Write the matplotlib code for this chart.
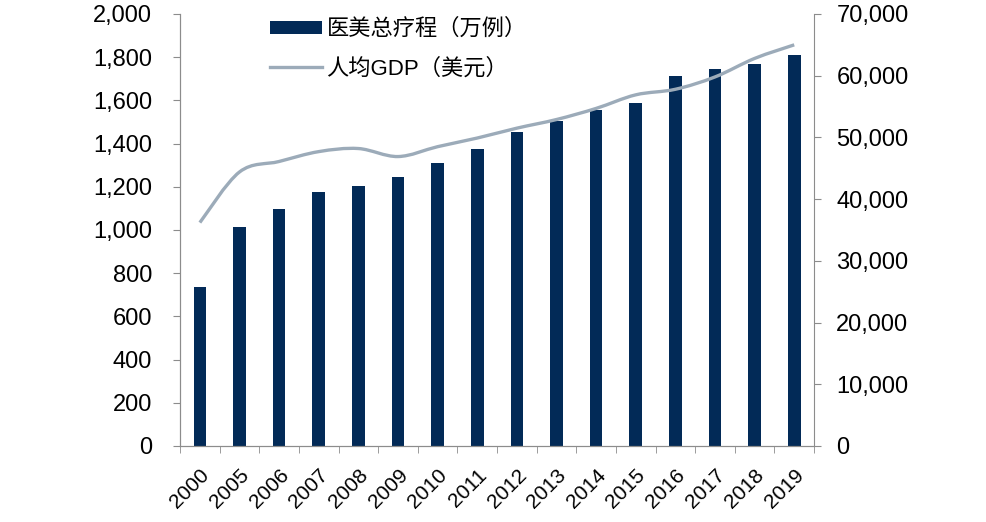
import matplotlib.pyplot as plt
import numpy as np
from matplotlib.path import Path
from matplotlib.patches import PathPatch
from matplotlib.lines import Line2D
from matplotlib.patches import Patch
from matplotlib.ticker import FuncFormatter

plt.rcParams['font.family'] = ['Liberation Sans', 'Noto Sans CJK SC', 'DejaVu Sans']

# Data
years = ['2000', '2005', '2006', '2007', '2008', '2009', '2010', '2011',
         '2012', '2013', '2014', '2015', '2016', '2017', '2018', '2019']
treatments = [735, 1015, 1095, 1175, 1205, 1245, 1308, 1377,
              1455, 1506, 1557, 1587, 1715, 1745, 1767, 1812]
gdp_per_capita = [36200, 44400, 46100, 47700, 48200, 46900, 48500, 49900,
                  51500, 52900, 54700, 56900, 57800, 59800, 62800, 65000]

bar_color = '#022a57'
line_color = '#9cabb9'
axis_color = '#8c8c8c'

fig = plt.figure(figsize=(9.86, 5.22), dpi=100)
ax = fig.add_axes([0.1826, 0.1456, 0.643, 0.8276])
ax2 = ax.twinx()

x = np.arange(len(years))
ax.bar(x, treatments, width=0.32, color=bar_color, zorder=2)
ax.set_xlim(-0.5, len(years) - 0.5)
ax.set_ylim(0, 2000)
ax.set_yticks(range(0, 2001, 200))
ax2.set_ylim(0, 70000)
ax2.set_yticks(range(0, 70001, 10000))

fmt = FuncFormatter(lambda v, p: f'{int(v):,}')
ax.yaxis.set_major_formatter(fmt)
ax2.yaxis.set_major_formatter(fmt)

# smoothed line (Catmull-Rom as cubic Bezier, like Excel's smooth line)
px = x.astype(float)
py = np.array(gdp_per_capita, dtype=float)
verts = [(px[0], py[0])]
codes = [Path.MOVETO]
n = len(px)
for i in range(n - 1):
    p0 = (px[max(i - 1, 0)], py[max(i - 1, 0)])
    p1 = (px[i], py[i])
    p2 = (px[i + 1], py[i + 1])
    p3 = (px[min(i + 2, n - 1)], py[min(i + 2, n - 1)])
    c1 = (p1[0] + (p2[0] - p0[0]) / 6, p1[1] + (p2[1] - p0[1]) / 6)
    c2 = (p2[0] - (p3[0] - p1[0]) / 6, p2[1] - (p3[1] - p1[1]) / 6)
    verts += [c1, c2, p2]
    codes += [Path.CURVE4] * 3
ax2.add_patch(PathPatch(Path(verts, codes), facecolor='none',
                        edgecolor=line_color, lw=2.4, zorder=3))

# x ticks: labels under bars, tick marks between categories
ax.set_xticks(x)
ax.set_xticklabels(years, rotation=45, ha='right', rotation_mode='anchor')
ax.tick_params(axis='x', length=0, pad=14, labelsize=15)
ax.set_xticks(np.arange(-0.5, len(years)), minor=True)
ax.tick_params(axis='x', which='minor', length=5, color=axis_color)

ax.tick_params(axis='y', length=5, color=axis_color, labelsize=17, pad=15)
ax2.tick_params(axis='y', length=5, color=axis_color, labelsize=17, pad=11)

for a in (ax, ax2):
    a.spines['top'].set_visible(False)
    for s in ('left', 'right', 'bottom'):
        a.spines[s].set_color(axis_color)
ax.spines['right'].set_visible(False)

handles = [Patch(facecolor=bar_color),
           Line2D([0], [0], color=line_color, lw=2.4)]
labels = ['医美总疗程（万例）', '人均GDP（美元）']
leg = ax.legend(handles, labels, loc='upper left', bbox_to_anchor=(0.11, 1.035),
                frameon=False, fontsize=16, handlelength=2.35, handleheight=0.55,
                handletextpad=0.2, labelspacing=0.8)

fig.savefig('out.png', dpi=100)
